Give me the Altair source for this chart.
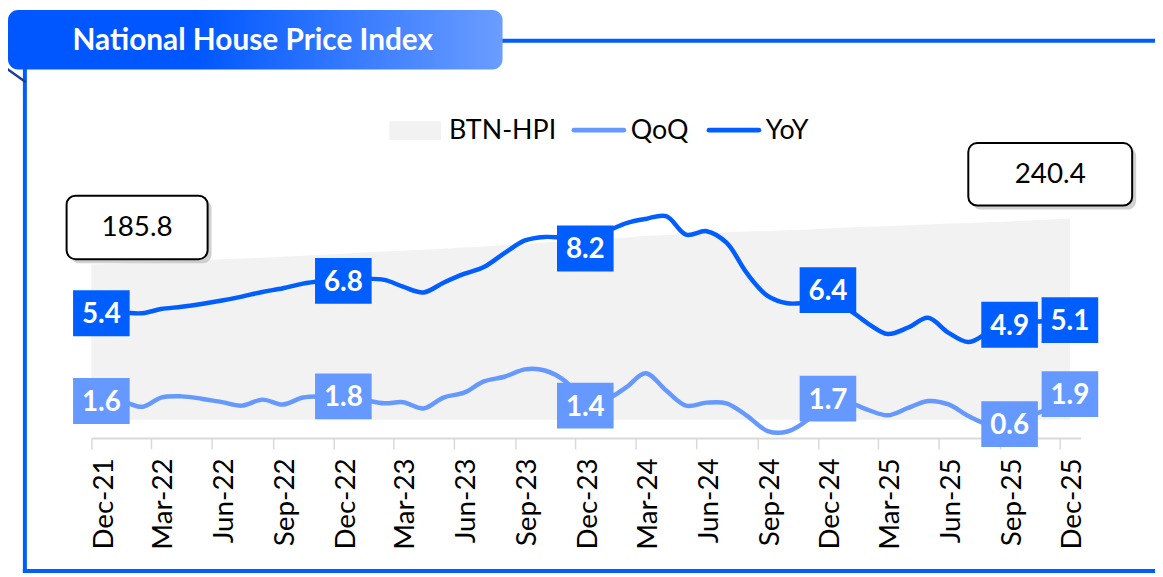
import altair as alt
import pandas as pd

# ---------------- data ----------------
months = [
    "2021-12", "2022-01", "2022-02", "2022-03", "2022-04", "2022-05", "2022-06",
    "2022-07", "2022-08", "2022-09", "2022-10", "2022-11", "2022-12",
    "2023-01", "2023-02", "2023-03", "2023-04", "2023-05", "2023-06",
    "2023-07", "2023-08", "2023-09", "2023-10", "2023-11", "2023-12",
    "2024-01", "2024-02", "2024-03", "2024-04", "2024-05", "2024-06",
    "2024-07", "2024-08", "2024-09", "2024-10", "2024-11", "2024-12",
    "2025-01", "2025-02", "2025-03", "2025-04", "2025-05", "2025-06",
    "2025-07", "2025-08", "2025-09", "2025-10", "2025-11", "2025-12",
]
hpi = [185.8, 186.6, 187.5, 188.6, 189.6, 190.6, 191.6, 192.5, 193.5, 194.8,
       196.0, 197.2, 198.4, 199.7, 200.9, 202.0, 203.0, 204.3, 205.7, 207.0,
       208.6, 210.3, 211.8, 213.3, 214.7, 216.2, 217.8, 219.4, 220.7, 221.6,
       222.8, 223.9, 224.8, 225.5, 226.4, 227.4, 228.5, 229.5, 230.4, 231.2,
       232.2, 233.3, 234.3, 235.1, 235.9, 236.8, 237.9, 239.2, 240.4]
qoq = [1.60, 1.58, 1.35, 1.75, 1.80, 1.70, 1.55, 1.40, 1.66, 1.45,
       1.75, 1.80, 1.80, 1.65, 1.50, 1.55, 1.28, 1.75, 1.96, 2.45,
       2.65, 2.97, 2.92, 2.45, 1.50, 1.65, 2.20, 2.80, 2.05, 1.40,
       1.53, 1.50, 0.96, 0.30, 0.28, 0.80, 1.70, 1.55, 1.20, 0.98,
       1.30, 1.60, 1.45, 0.95, 0.58, 0.60, 0.95, 1.30, 1.90]
yoy = [5.40, 5.42, 5.40, 5.58, 5.68, 5.80, 5.95, 6.12, 6.32, 6.48,
       6.68, 6.80, 6.88, 6.90, 6.84, 6.55, 6.30, 6.72, 7.10, 7.40,
       8.00, 8.55, 8.70, 8.68, 8.80, 8.95, 9.30, 9.48, 9.60, 8.80,
       8.95, 8.45, 7.12, 6.15, 5.83, 5.85, 5.85, 5.55, 4.92, 4.50,
       4.78, 5.20, 4.55, 4.15, 4.58, 4.90, 5.02, 5.06, 5.10]

tick_months = ["2021-12", "2022-03", "2022-06", "2022-09", "2022-12", "2023-03",
               "2023-06", "2023-09", "2023-12", "2024-03", "2024-06", "2024-09",
               "2024-12", "2025-03", "2025-06", "2025-09", "2025-12"]
label_months = ["2021-12", "2022-12", "2023-12", "2024-12", "2025-09", "2025-12"]
qoq_labels = [1.6, 1.8, 1.4, 1.7, 0.6, 1.9]
yoy_labels = [5.4, 6.8, 8.2, 6.4, 4.9, 5.1]

title_text = "National House Price Index"
legend_names = ["BTN-HPI", "QoQ", "YoY"]

# ---------------- styling ----------------
FONT = "Lato"
BLUE = "#005EFF"
LIGHT = "#6699FF"
GREY_AREA = "#F2F2F2"
AXIS_GREY = "#D9D9D9"
W, H = 996, 349

df = pd.DataFrame({"date": [m + "-16" for m in months], "hpi": hpi, "qoq": qoq, "yoy": yoy})
# the grey area starts at the left edge of the first month (first reading held)
area_df = pd.concat([pd.DataFrame({"date": [months[0] + "-01"], "hpi": [hpi[0]]}),
                     df[["date", "hpi"]]], ignore_index=True)
lab = pd.DataFrame({"date": [m + "-16" for m in label_months],
                    "qoq": qoq_labels, "yoy": yoy_labels})
lab["qoq_t"] = [f"{v:.1f}" for v in qoq_labels]
lab["yoy_t"] = [f"{v:.1f}" for v in yoy_labels]
one = pd.DataFrame({"a": [0]})


def dt(m):
    y, mo = m.split("-")
    return alt.DateTime(year=int(y), month=int(mo), date=1, utc=True)


x_scale = alt.Scale(type="utc", domain=[dt("2021-12"), dt("2026-01")], nice=False)
x_axis = alt.Axis(
    values=[dt(m) for m in tick_months],
    labelExpr="utcFormat(datum.value, '%b-%y')",
    title=None, grid=False,
    domainColor=AXIS_GREY, domainWidth=2,
    tickColor=AXIS_GREY, tickWidth=1.5, tickSize=11,
    labelAngle=270, labelFont=FONT, labelFontSize=28, labelColor="#000000",
    labelOffset=13, labelPadding=9, labelOverlap=False, labelFlush=False,
    labelBound=False,
)
X = alt.X("date:T", scale=x_scale, axis=x_axis)
y_line = alt.Scale(domain=[0, 15], nice=False, zero=False)
y_area = alt.Scale(domain=[-21.9, 392.3], nice=False, zero=False)

# ---------------- decorations (frame, title, legend) ----------------
def rule(x, x2, y, y2, color=BLUE, w=4):
    return alt.Chart(one).mark_rule(color=color, strokeWidth=w, strokeCap="square").encode(
        x=alt.value(x), x2=alt.value(x2), y=alt.value(y), y2=alt.value(y2))

BOTTOM = 483
frame = [
    rule(400, 1080, -51, -51),
    rule(-67, -67, -22, BOTTOM),
    rule(-67, 1080, BOTTOM, BOTTOM),
    rule(-84, -67, -22, -10, color="#1d3f99", w=2.5),
]

grad = alt.LinearGradient(
    gradient="linear", x1=0, x2=1, y1=0, y2=0,
    stops=[alt.GradientStop(color="#0057FF", offset=0),
           alt.GradientStop(color="#0057FF", offset=0.38),
           alt.GradientStop(color="#6B9DFF", offset=1)])
title_box = alt.Chart(one).mark_rect(color=grad, cornerRadius=10).encode(
    x=alt.value(-84), x2=alt.value(414), y=alt.value(-82), y2=alt.value(-22))
title_txt = alt.Chart(one).mark_text(
    font=FONT, fontSize=30, fontWeight="bold", color="white", align="left",
    baseline="alphabetic").encode(x=alt.value(-19), y=alt.value(-42), text=alt.value(title_text))

leg_sw = alt.Chart(one).mark_rect(color=GREY_AREA).encode(
    x=alt.value(300), x2=alt.value(352), y=alt.value(30), y2=alt.value(49))
leg_q = alt.Chart(one).mark_rule(color=LIGHT, strokeWidth=5, strokeCap="round").encode(
    x=alt.value(486), x2=alt.value(536), y=alt.value(39), y2=alt.value(39))
leg_y = alt.Chart(one).mark_rule(color=BLUE, strokeWidth=5, strokeCap="round").encode(
    x=alt.value(622), x2=alt.value(672), y=alt.value(39), y2=alt.value(39))
leg_texts = [
    alt.Chart(one).mark_text(font=FONT, fontSize=27, color="black", align="left",
                             baseline="alphabetic").encode(
        x=alt.value(xp), y=alt.value(48), text=alt.value(name))
    for name, xp in zip(legend_names, [360, 543, 679])
]

# ---------------- data layers ----------------
area = alt.Chart(area_df).mark_area(color=GREY_AREA).encode(
    x=X, y=alt.Y("hpi:Q", scale=y_area, axis=None), y2=alt.value(H))


def callout(x0, x1, y0, y1, value):
    sh = alt.Chart(one).mark_rect(color="#bdbdbd", opacity=0.7, cornerRadius=9).encode(
        x=alt.value(x0 + 4), x2=alt.value(x1 + 4), y=alt.value(y0 + 4), y2=alt.value(y1 + 4))
    bx = alt.Chart(one).mark_rect(fill="white", stroke="black", strokeWidth=2, cornerRadius=9).encode(
        x=alt.value(x0), x2=alt.value(x1), y=alt.value(y0), y2=alt.value(y1))
    tx = alt.Chart(one).mark_text(font=FONT, fontSize=28, color="black", align="center",
                                  baseline="middle").encode(
        x=alt.value((x0 + x1) / 2), y=alt.value((y0 + y1) / 2 + 1), text=alt.value(f"{value:.1f}"))
    return [sh, bx, tx]


call1 = callout(-25, 117, 105, 169, hpi[0])
call2 = callout(883, 1048, 52, 115, hpi[-1])

line_q = alt.Chart(df).mark_line(color=LIGHT, strokeWidth=4.5, interpolate="catmull-rom").encode(
    x=X, y=alt.Y("qoq:Q", scale=y_line, axis=None))
line_y = alt.Chart(df).mark_line(color=BLUE, strokeWidth=4.5, interpolate="catmull-rom").encode(
    x=X, y=alt.Y("yoy:Q", scale=y_line, axis=None))

BOX = "M-1,-0.81L1,-0.81L1,0.81L-1,0.81Z"


def label_layers(field, color):
    box = alt.Chart(lab).mark_point(shape=BOX, filled=True, opacity=1, size=57 * 57,
                                    color=color, strokeWidth=0).encode(
        x=X, y=alt.Y(f"{field}:Q", scale=y_line, axis=None))
    txt = alt.Chart(lab).mark_text(font=FONT, fontSize=28, fontWeight="bold", color="white",
                                   baseline="middle", dy=2).encode(
        x=X, y=alt.Y(f"{field}:Q", scale=y_line, axis=None), text=f"{field}_t:N")
    return [box, txt]


layers = (frame + [title_box, title_txt, leg_sw, leg_q, leg_y] + leg_texts
          + [area] + call1 + call2 + [line_q, line_y]
          + label_layers("qoq", LIGHT) + label_layers("yoy", BLUE))

chart = alt.layer(*layers).resolve_scale(y="independent").properties(
    width=W, height=H,
    autosize=alt.AutoSizeParams(type="none"),
    padding={"left": 84, "top": 82, "right": 75, "bottom": 136},
    background="white",
).configure_view(stroke=None)

chart.save("out.html", embed_options={"renderer": "svg", "actions": False})
